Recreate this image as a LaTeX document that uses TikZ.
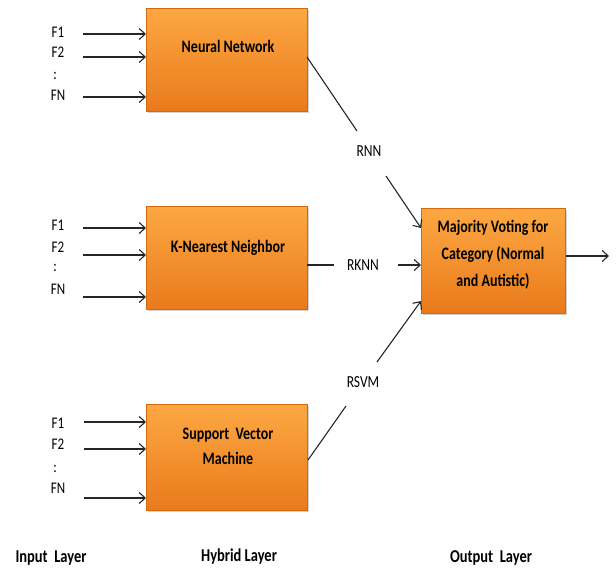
\documentclass[tikz,border=0pt]{standalone}
\usepackage{fontspec}
\usepackage{graphicx}
\setmainfont{Carlito}
\usetikzlibrary{shadows,arrows.meta}
\definecolor{boxtop}{HTML}{FCA842}
\definecolor{boxbot}{HTML}{EA7A1C}
\definecolor{boxedge}{HTML}{D2690F}
\newcommand{\vs}[1]{\scalebox{1}[1.25]{#1}}
\tikzset{
  model/.style={draw=boxedge, line width=0.8pt, top color=boxtop, bottom color=boxbot,
    drop shadow={opacity=0.35, shadow xshift=1.5pt, shadow yshift=-2pt},
    minimum width=161pt, minimum height=103pt, inner sep=0pt, anchor=north west},
  vote/.style={model, minimum width=144pt, minimum height=105pt},
  boxtxt/.style={align=center, inner sep=0pt, font=\bfseries\fontsize{14}{25}\selectfont},
  feat/.style={font=\fontsize{13}{13}\selectfont, inner sep=0pt},
  lbl/.style={font=\fontsize{13.5}{14}\selectfont, inner sep=0pt},
  layer/.style={font=\bfseries\fontsize{14.5}{14}\selectfont, inner sep=0pt},
  arr/.style={-{Straight Barb[length=6pt,width=11pt]}, line width=1.1pt, draw=black!85},
  ln/.style={line width=1.1pt, draw=black!85}
}
\begin{document}
\begin{tikzpicture}[x=1pt,y=-1pt]
\useasboundingbox (0,0) rectangle (616,571);
% boxes
\node[model] (nn) at (146,8) {};
\node[model] (knn) at (146,206) {};
\node[model, minimum height=106pt] (svm) at (146,404) {};
\node[vote] (mv) at (421,208) {};
\node[boxtxt] (nnt) at (228,46) {\vs{Neural Network}};
\node[boxtxt] (knnt) at (228,248) {\vs{K-Nearest Neighbor}};
\node[boxtxt] (svmt) at (228,446) {\vs{Support\ \ Vector}\\\vs{Machine}};
\node[boxtxt, font=\bfseries\fontsize{14}{27}\selectfont] (mvt) at (493,255) {\vs{Majority Voting for}\\\vs{Category (Normal}\\\vs{and Autistic)}};
% inputs NN
\node[feat] (a1) at (58,32) {\vs{F1}};
\node[feat] (a2) at (58,52) {\vs{F2}};
\node[feat] (a3) at (55,76) {\vs{:}};
\node[feat] (a4) at (58,95) {\vs{FN}};
\coordinate (a1s) at (83,34); \coordinate (a2s) at (83,57); \coordinate (a4s) at (83,97);
\draw[arr] (a1s) -- (a1s -| nn.west);
\draw[arr] (a2s) -- (a2s -| nn.west);
\draw[arr] (a4s) -- (a4s -| nn.west);
% inputs KNN
\node[feat] (b1) at (58,225) {\vs{F1}};
\node[feat] (b2) at (58,247) {\vs{F2}};
\node[feat] (b3) at (55,268) {\vs{:}};
\node[feat] (b4) at (58,289) {\vs{FN}};
\coordinate (b1s) at (83,228); \coordinate (b2s) at (83,255); \coordinate (b4s) at (83,297);
\draw[arr] (b1s) -- (b1s -| knn.west);
\draw[arr] (b2s) -- (b2s -| knn.west);
\draw[arr] (b4s) -- (b4s -| knn.west);
% inputs SVM
\node[feat] (c1) at (58,423) {\vs{F1}};
\node[feat] (c2) at (58,444) {\vs{F2}};
\node[feat] (c3) at (55,469) {\vs{:}};
\node[feat] (c4) at (58,488) {\vs{FN}};
\coordinate (c1s) at (84,422); \coordinate (c2s) at (84,449); \coordinate (c4s) at (84,498);
\draw[arr] (c1s) -- (c1s -| svm.west);
\draw[arr] (c2s) -- (c2s -| svm.west);
\draw[arr] (c4s) -- (c4s -| svm.west);
% RNN
\node[lbl] (rnn) at (369,151) {\vs{RNN}};
\coordinate (nnout) at (307,57);
\coordinate (rnnA) at (357,131);
\coordinate (rnnB) at (386,176);
\coordinate (mvA) at (421,228);
\draw[ln] (nnout) -- (rnnA);
\draw[arr] (rnnB) -- (mvA);
% RKNN
\node[lbl] (rknn) at (363,265) {\vs{RKNN}};
\coordinate (knnout) at (307,265);
\coordinate (rknnA) at (334,265);
\coordinate (rknnB) at (398,265);
\draw[ln] (knnout) -- (rknnA);
\draw[arr] (rknnB) -- (rknnB -| mv.west);
% RSVM
\node[lbl] (rsvm) at (363,382) {\vs{RSVM}};
\coordinate (svmout) at (308,460);
\coordinate (rsvmA) at (346,406);
\coordinate (rsvmB) at (377,362);
\coordinate (mvC) at (421,301);
\draw[ln] (svmout) -- (rsvmA);
\draw[arr] (rsvmB) -- (mvC);
% output
\coordinate (outEnd) at (609,256);
\draw[arr] (outEnd -| mv.east) -- (outEnd);
% layer labels
\node[layer] (il) at (51,558) {\vs{Input\ \ Layer}};
\node[layer] (hl) at (239,557) {\vs{Hybrid Layer}};
\node[layer] (ol) at (491,558) {\vs{Output\ \ Layer}};
\end{tikzpicture}
\end{document}
